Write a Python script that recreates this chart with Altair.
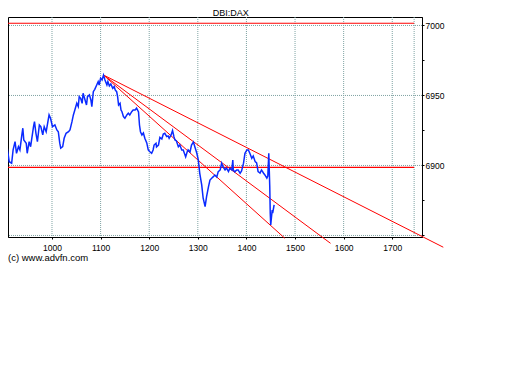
import altair as alt
import pandas as pd

# ---- data ----
idx = [900, 905, 908, 912, 917, 920, 924, 927, 931, 934, 938, 940, 942, 947, 949, 953, 956,
       962, 964, 967, 970, 974, 977, 981, 984, 988, 991, 994, 997, 1001, 1006, 1010, 1013,
       1016, 1018, 1022, 1025, 1029, 1034, 1037, 1041, 1044, 1047, 1051, 1054, 1056, 1059,
       1062, 1064, 1068, 1071, 1073, 1077, 1080, 1082, 1085, 1088, 1092, 1095, 1097, 1100,
       1103, 1106, 1109, 1113, 1115, 1118, 1121, 1125, 1128, 1130, 1133, 1135, 1137, 1140,
       1142, 1144, 1147, 1150, 1154, 1157, 1160, 1164, 1167, 1171, 1174, 1178, 1180, 1182,
       1185, 1188, 1191, 1195, 1198, 1202, 1205, 1208, 1210, 1214, 1215, 1219, 1222, 1226,
       1229, 1232, 1236, 1239, 1241, 1245, 1248, 1251, 1253, 1256, 1260, 1263, 1267, 1270,
       1275, 1278, 1280, 1284, 1287, 1291, 1294, 1298, 1301, 1304, 1308, 1311, 1315, 1318,
       1322, 1325, 1329, 1332, 1335, 1339, 1342, 1346, 1349, 1352, 1356, 1359, 1363, 1366,
       1370, 1372, 1373, 1376, 1380, 1383, 1387, 1390, 1394, 1397, 1401, 1404, 1407, 1411,
       1414, 1418, 1421, 1424, 1428, 1431, 1435, 1438, 1442, 1444, 1446, 1448, 1449, 1450,
       1453, 1454, 1457]
val = [6899.6, 6911.1, 6912.3, 6902.7, 6901.6, 6911.1, 6917.0, 6908.7, 6913.4, 6911.1, 6921.8,
       6926.6, 6918.2, 6915.9, 6908.7, 6917.0, 6913.4, 6927.7, 6931.3, 6923.0, 6917.0, 6928.9,
       6927.7, 6921.8, 6927.7, 6924.1, 6930.1, 6936.1, 6933.7, 6927.7, 6928.9, 6925.4, 6924.1,
       6915.9, 6912.3, 6913.4, 6919.4, 6923.0, 6924.1, 6925.4, 6931.1, 6936.1, 6939.6, 6944.4,
       6942.0, 6949.1, 6948.0, 6944.4, 6951.6, 6946.8, 6943.2, 6949.1, 6950.4, 6946.8, 6942.0,
       6952.7, 6954.4, 6957.5, 6959.9, 6957.5, 6962.3, 6961.1, 6964.6, 6961.1, 6957.5, 6959.9,
       6956.8, 6958.2, 6955.1, 6956.3, 6953.9, 6952.7, 6949.1, 6943.2, 6944.4, 6939.6, 6938.4,
       6934.9, 6933.7, 6936.1, 6937.3, 6936.1, 6938.4, 6939.6, 6939.6, 6940.9, 6938.2, 6928.9,
       6924.1, 6921.8, 6923.2, 6919.4, 6916.1, 6911.1, 6909.6, 6908.7, 6911.1, 6914.6, 6915.9,
       6913.2, 6914.6, 6920.0, 6918.9, 6922.5, 6923.0, 6920.6, 6921.1, 6919.4, 6921.8, 6924.9,
       6920.4, 6918.2, 6917.5, 6913.4, 6914.6, 6911.1, 6911.1, 6906.1, 6909.6, 6911.1, 6909.6,
       6914.6, 6916.8, 6913.2, 6908.7, 6903.9, 6894.4, 6886.1, 6876.6, 6870.6, 6877.7, 6884.9,
       6889.6, 6891.1, 6892.0, 6893.2, 6891.8, 6895.6, 6896.8, 6901.6, 6898.9, 6896.8, 6898.2,
       6895.6, 6898.0, 6896.8, 6903.9, 6896.8, 6895.4, 6896.8, 6896.8, 6894.4, 6896.1, 6901.6,
       6908.7, 6911.1, 6911.1, 6908.7, 6905.1, 6906.8, 6902.7, 6901.8, 6895.6, 6894.6, 6896.8,
       6894.6, 6893.2, 6890.9, 6892.5, 6908.7, 6884.9, 6865.9, 6857.5, 6868.2, 6865.9, 6871.8]

# trend lines from the peak
trend_x0 = [1106, 1106, 1106]
trend_y0 = [6964.6, 6964.6, 6964.6]
trend_x1 = [1805, 1573, 1479]
trend_y1 = [6841.6, 6844.4, 6848.0]

# horizontal levels
level_vals = [7001.6, 6898.7]
level_end = 1745

x_ticks = [1000, 1100, 1200, 1300, 1400, 1500, 1600, 1700]
x_grid = x_ticks + [1745]
y_ticks = [6850, 6875, 6900, 6925, 6950, 6975, 7000]
y_grid = [6850, 6900, 6950, 7000]

title_text = "DBI:DAX"
credit_text = "(c) www.advfn.com"

X_MIN, X_MAX = 909.5, 1761.2
Y_MIN, Y_MAX = 6848.9, 7006.05
W, H = 414, 220

FONT = "Liberation Sans"
GRID_COLOR = "#7fa3a3"

xs = alt.Scale(domain=[X_MIN, X_MAX], nice=False, zero=False)
ys = alt.Scale(domain=[Y_MIN, Y_MAX], nice=False, zero=False)

xaxis = alt.Axis(values=x_ticks, format="d", title=None, grid=False, tickSize=2,
                 labelPadding=4, labelFontSize=8.5, labelFont=FONT, labelColor="black",
                 tickColor="black", domainColor="black", labelFlush=False)
yaxis = alt.Axis(values=y_ticks, format="d", title=None, grid=False, orient="right",
                 tickSize=2, labelPadding=1, labelFontSize=8.5, labelFont=FONT,
                 labelColor="black", tickColor="black", domainColor="black",
                 labelExpr="(datum.value % 50 == 0 && datum.value > 6850) ? datum.label : ''")

df_line = pd.DataFrame({"i": idx, "v": val})
df_trend = pd.DataFrame({"x0": trend_x0, "y0": trend_y0, "x1": trend_x1, "y1": trend_y1})
df_level = pd.DataFrame({"lv": level_vals, "xa": [X_MIN] * len(level_vals),
                         "xb": [level_end] * len(level_vals)})
df_vg = pd.DataFrame({"gx": x_grid})
df_hg = pd.DataFrame({"gy": y_grid})

vgrid = alt.Chart(df_vg).mark_rule(color=GRID_COLOR, strokeDash=[1, 1], strokeWidth=1).encode(
    x=alt.X("gx:Q", scale=xs, axis=xaxis))
hgrid = alt.Chart(df_hg).mark_rule(color=GRID_COLOR, strokeDash=[1, 1], strokeWidth=1).encode(
    y=alt.Y("gy:Q", scale=ys, axis=yaxis))

levels = alt.Chart(df_level).mark_rule(color="#ff0000", strokeWidth=1.2).encode(
    x=alt.X("xa:Q", scale=xs, axis=xaxis), x2="xb:Q",
    y=alt.Y("lv:Q", scale=ys, axis=yaxis))

trends = alt.Chart(df_trend).mark_rule(color="#ff0000", strokeWidth=1).encode(
    x=alt.X("x0:Q", scale=xs, axis=xaxis), x2="x1:Q",
    y=alt.Y("y0:Q", scale=ys, axis=yaxis), y2="y1:Q")

line = alt.Chart(df_line).mark_line(color="#0a2aff", strokeWidth=1.5, clip=True).encode(
    x=alt.X("i:Q", scale=xs, axis=xaxis),
    y=alt.Y("v:Q", scale=ys, axis=yaxis))

title = alt.Chart(alt.Data(values=[{"t": title_text}])).mark_text(
    font=FONT, fontSize=9, color="black", align="center", baseline="alphabetic").encode(
    x=alt.value(222.7), y=alt.value(-0.6), text="t:N")

credit = alt.Chart(alt.Data(values=[{"t": credit_text}])).mark_text(
    font=FONT, fontSize=9.5, color="black", align="left", baseline="middle").encode(
    x=alt.value(0), y=alt.value(241.3), text="t:N")

chart = alt.layer(vgrid, hgrid, levels, trends, line, title, credit).properties(
    width=W, height=H,
    padding={"left": 0, "top": 9, "right": 80, "bottom": 120},
    autosize=alt.AutoSizeParams(type="none"),
).configure_view(stroke="black", strokeWidth=1)

chart.save("out.html", embed_options={"renderer": "svg", "actions": False})
